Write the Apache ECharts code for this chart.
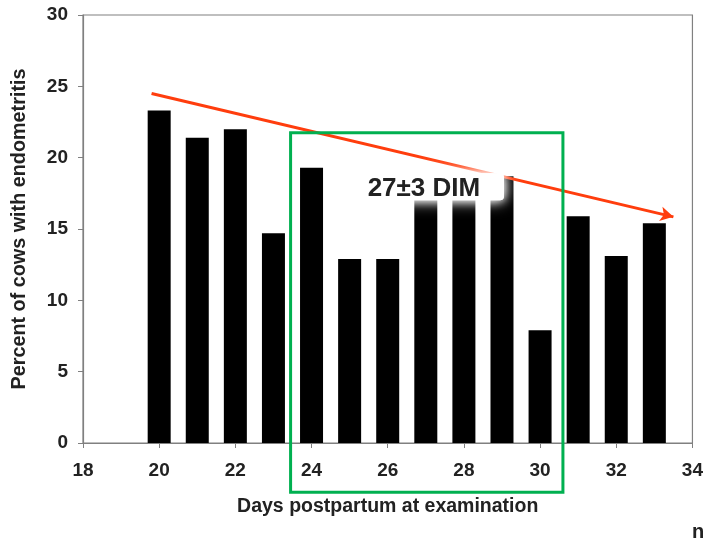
<!DOCTYPE html>
<html>
<head>
<meta charset="utf-8">
<script src="https://cdn.jsdelivr.net/npm/echarts@6/dist/echarts.min.js"></script>
<style>
  html, body { margin: 0; padding: 0; background: #fff; }
  #chart { width: 706px; height: 543px; }
</style>
</head>
<body>
<div id="chart"></div>
<script>
// Days postpartum at examination and the share of cows diagnosed with endometritis
const days = [20, 21, 22, 23, 24, 25, 26, 27, 28, 29, 30, 31, 32, 33];
const percentEndometritis = [23.3, 21.4, 22.0, 14.7, 19.3, 12.9, 12.9, 17.6, 18.2, 18.7, 7.9, 15.9, 13.1, 15.4];
const xTicks = [18, 20, 22, 24, 26, 28, 30, 32, 34];
const yTicks = [0, 5, 10, 15, 20, 25, 30];

// Downward trend arrow (data space) and the 27±3 DIM window
const trendStart = [19.8, 24.5];
const trendEnd = [33.5, 15.85];
const windowLabel = '27±3 DIM';
const windowFrom = [23.45, 21.75];
const windowTo = [30.6, -3.45];

const FONT = '"Liberation Sans", Arial, sans-serif';
const axisGray = '#808080';

const chart = echarts.init(document.getElementById('chart'));

chart.setOption({
  animation: false,
  grid: {
    left: 83, right: 13, top: 15, bottom: 100,
    show: true, borderColor: axisGray, borderWidth: 1.2
  },
  xAxis: {
    type: 'value',
    min: xTicks[0], max: xTicks[xTicks.length - 1], interval: 2,
    name: 'Days postpartum at examination',
    nameLocation: 'middle', nameGap: 54,
    nameTextStyle: { fontFamily: FONT, fontWeight: 'bold', fontSize: 19.5, color: '#222' },
    axisLine: { show: true, lineStyle: { color: axisGray, width: 1.2 } },
    axisTick: { show: true, length: 5, lineStyle: { color: axisGray } },
    axisLabel: { margin: 18, fontFamily: FONT, fontWeight: 'bold', fontSize: 19, color: '#222' },
    splitLine: { show: false }
  },
  yAxis: {
    type: 'value',
    min: yTicks[0], max: yTicks[yTicks.length - 1], interval: 5,
    name: 'Percent of cows with endometritis',
    nameLocation: 'middle', nameGap: 53,
    nameTextStyle: { fontFamily: FONT, fontWeight: 'bold', fontSize: 19.8, color: '#222' },
    axisLine: { show: true, lineStyle: { color: axisGray, width: 1.2 } },
    axisTick: { show: true, length: 5, lineStyle: { color: axisGray } },
    axisLabel: { margin: 15, fontFamily: FONT, fontWeight: 'bold', fontSize: 19, color: '#222' },
    splitLine: { show: false }
  },
  series: [
    {
      type: 'bar',
      data: days.map((d, i) => [d, percentEndometritis[i]]),
      barWidth: 23,
      itemStyle: { color: '#000' },
      markLine: {
        silent: true,
        symbol: ['none', 'arrow'],
        symbolSize: [11, 13],
        label: { show: false },
        lineStyle: { color: '#ff3d0d', width: 3, type: 'solid' },
        data: [[{ coord: trendStart }, { coord: trendEnd }]]
      }
    }
  ]
});

function drawAnnotations() {
  const p1 = chart.convertToPixel({ gridIndex: 0 }, windowFrom);
  const p2 = chart.convertToPixel({ gridIndex: 0 }, windowTo);
  const labelPos = chart.convertToPixel({ gridIndex: 0 }, [26.95, 17.85]);
  chart.setOption({
    graphic: [
      {
        type: 'rect', z: 100,
        shape: { x: p1[0], y: p1[1], width: p2[0] - p1[0], height: p2[1] - p1[1] },
        style: { fill: 'none', stroke: '#00b050', lineWidth: 3 }
      },
      {
        type: 'rect', z: 101,
        shape: { x: labelPos[0] - 62, y: labelPos[1] - 15, width: 142, height: 27, r: 4 },
        style: { fill: '#fff', shadowBlur: 16, shadowColor: '#fff' }
      },
      {
        type: 'rect', z: 101,
        shape: { x: labelPos[0] - 62, y: labelPos[1] - 15, width: 142, height: 27, r: 4 },
        style: { fill: '#fff', shadowBlur: 10, shadowColor: '#fff' }
      },
      {
        type: 'text', z: 102,
        x: labelPos[0], y: labelPos[1],
        style: {
          text: windowLabel, fill: '#222',
          font: 'bold 26px ' + FONT,
          align: 'center', verticalAlign: 'middle'
        }
      },
      {
        type: 'text', z: 102,
        x: 692, y: 532,
        style: {
          text: 'n', fill: '#222',
          font: 'bold 20px ' + FONT,
          align: 'left', verticalAlign: 'middle'
        }
      }
    ]
  });
}
drawAnnotations();
</script>
</body>
</html>
